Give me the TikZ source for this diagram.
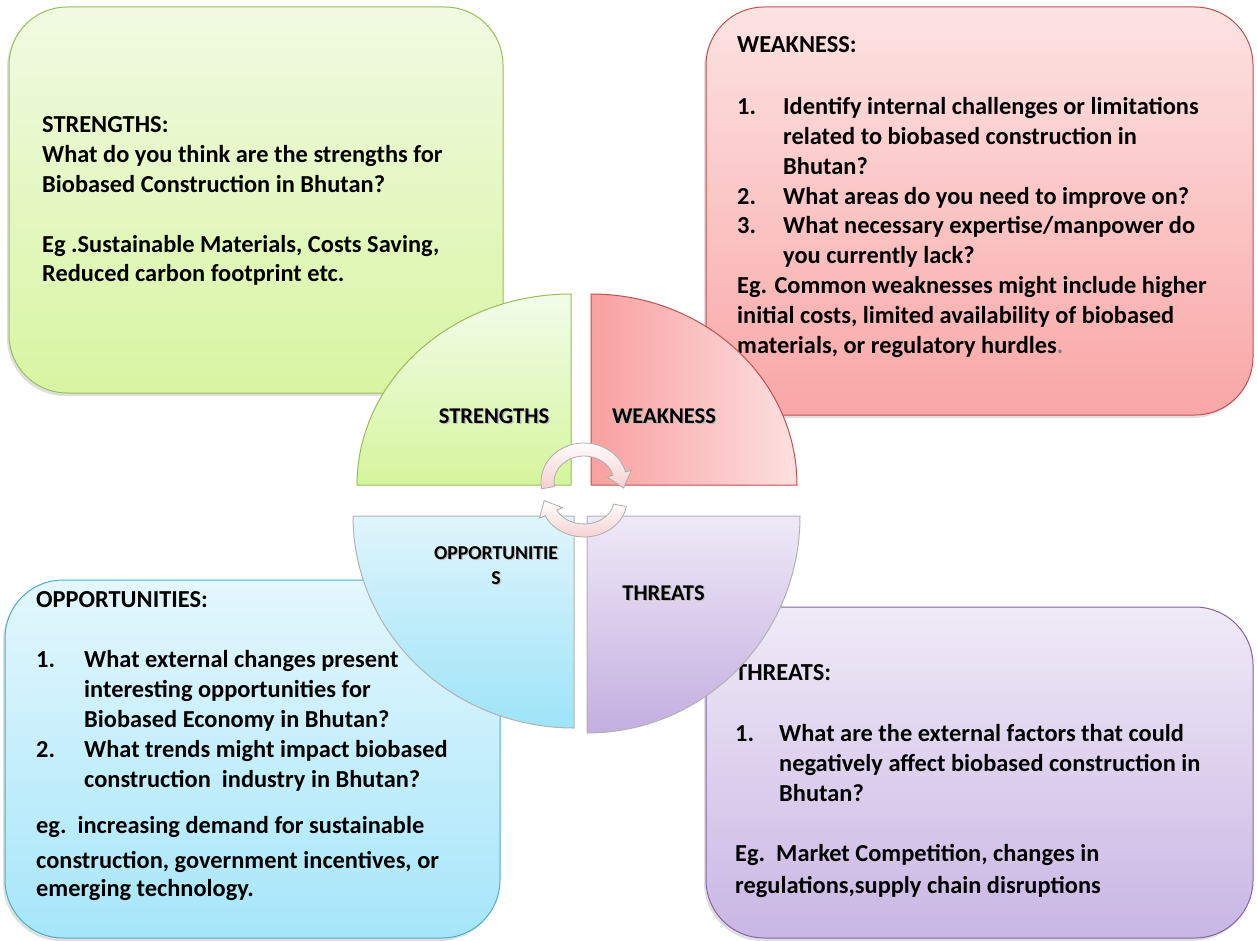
\documentclass[tikz,border=0pt]{standalone}
\usepackage{fontspec}
\setmainfont{Carlito}
\usetikzlibrary{shadows}
\definecolor{gbord}{HTML}{9BBB59}
\definecolor{gtop}{HTML}{F1FAE2}
\definecolor{gbot}{HTML}{D8F5A2}
\definecolor{rbord}{HTML}{C0504D}
\definecolor{rtop}{HTML}{FDE3E3}
\definecolor{rbot}{HTML}{F9A6A6}
\definecolor{bbord}{HTML}{4BACC6}
\definecolor{btop}{HTML}{E4F7FD}
\definecolor{bbot}{HTML}{A6E6FA}
\definecolor{pbord}{HTML}{8064A2}
\definecolor{ptop}{HTML}{F0EAF7}
\definecolor{pbot}{HTML}{C9B6E4}
\definecolor{qgtop}{HTML}{F2FCEA}
\definecolor{qgbot}{HTML}{D5F59C}
\definecolor{qrl}{HTML}{F9A0A0}
\definecolor{qrr}{HTML}{FDE0E0}
\definecolor{qbtop}{HTML}{E0F5FC}
\definecolor{qbbot}{HTML}{9EE4F8}
\definecolor{qptop}{HTML}{EFE9F7}
\definecolor{qpbot}{HTML}{C3AEE0}
\definecolor{arrpink}{HTML}{F5CFCF}
\newcommand{\bx}{\fontsize{24.4}{29.8}\selectfont\bfseries}
\newcommand{\lnum}[2]{\makebox[#1][l]{#2}}
\newcommand{\shtxt}[1]{\rlap{\kern1.2pt\raisebox{-1.2pt}{\textcolor{gray!55}{#1}}}#1}
\begin{document}
\begin{tikzpicture}[x=1pt,y=1pt,
  box/.style={rounded corners=58pt, line width=1pt,
    drop shadow={shadow xshift=-2pt,shadow yshift=-3pt,opacity=0.25}},
  quad/.style={line width=1pt},
  lab/.style={inner sep=0pt, anchor=base, font=\fontsize{22.5}{27}\selectfont\bfseries},
  txt/.style={inner sep=0pt, anchor=base west, align=left},
  arr/.style={draw=gray!65, line width=0.8pt, top color=white, bottom color=arrpink}
]
\useasboundingbox (0,0) rectangle (1257,-941);

% boxes
\path[box, draw=gbord, top color=gtop, bottom color=gbot] (9,-7) rectangle (503,-393);
\path[box, draw=rbord, top color=rtop, bottom color=rbot] (706,-7) rectangle (1253,-415);
\path[box, draw=bbord, top color=btop, bottom color=bbot] (5,-580) rectangle (500,-938);
\path[box, draw=pbord, top color=ptop, bottom color=pbot] (706,-607) rectangle (1253,-938);

% box texts
\node[txt] (stext) at (42,-133) {\bx\begin{tabular}[t]{@{}l@{}}
STRENGTHS:\\
What do you think are the strengths for\\
Biobased Construction in Bhutan?\\[29.8pt]
Eg .Sustainable Materials, Costs Saving,\\
Reduced carbon footprint etc.
\end{tabular}};

\node[txt] (wtext) at (737,-53) {\bx\begin{tabular}[t]{@{}l@{}}
WEAKNESS:\\[32pt]
\lnum{46pt}{1.}Identify internal challenges or limitations\\
\lnum{46pt}{}related to biobased construction in\\
\lnum{46pt}{}Bhutan?\\
\lnum{46pt}{2.}What areas do you need to improve on?\\
\lnum{46pt}{3.}What necessary expertise/manpower do\\
\lnum{46pt}{}you currently lack?\\
Eg. Common weaknesses might include higher\\
initial costs, limited availability of biobased\\
materials, or regulatory hurdles\textcolor{gray}{.}
\end{tabular}};

\node[txt] (otext) at (36,-607) {\bx\begin{tabular}[t]{@{}l@{}}
OPPORTUNITIES:\\[31pt]
\lnum{48pt}{1.}What external changes present\\
\lnum{48pt}{}interesting opportunities for\\
\lnum{48pt}{}Biobased Economy in Bhutan?\\
\lnum{48pt}{2.}What trends might impact biobased\\
\lnum{48pt}{}construction\ \ industry in Bhutan?\\[17pt]
eg.\ \ increasing demand for sustainable\\[5pt]
construction, government incentives, or\\[-2pt]
emerging technology.
\end{tabular}};

\node[txt] (ttext) at (735,-680) {\bx\begin{tabular}[t]{@{}l@{}}
THREATS:\\[32pt]
\lnum{44pt}{1.}What are the external factors that could\\
\lnum{44pt}{}negatively affect biobased construction in\\
\lnum{44pt}{}Bhutan?\\[30pt]
Eg.\ \ Market Competition, changes in\\[2pt]
regulations,supply chain disruptions
\end{tabular}};

% quadrants
\path[quad, draw=gbord, top color=qgtop, bottom color=qgbot]
  (571,-485) -- (357,-485) arc[start angle=180, end angle=90, x radius=214, y radius=191] -- cycle;
\path[quad, draw=rbord, left color=qrl, right color=qrr]
  (591,-485) -- (591,-294) arc[start angle=90, end angle=0, x radius=206, y radius=191] -- cycle;
\path[quad, draw=gray!60, top color=qbtop, bottom color=qbbot]
  (574,-516) -- (353,-516) arc[start angle=180, end angle=270, x radius=221, y radius=212] -- cycle;
\path[quad, draw=gray!60, top color=qptop, bottom color=qpbot]
  (587,-516) -- (800,-516) arc[start angle=0, end angle=-90, x radius=213, y radius=217] -- cycle;

% quadrant labels
\node[lab] (sl) at (494,-423) {\shtxt{STRENGTHS}};
\node[lab] (wl) at (664,-423) {\shtxt{WEAKNESS}};
\node[lab, font=\fontsize{19.7}{24.5}\selectfont\bfseries, align=center] (ol) at (496,-584) {\shtxt{OPPORTUNITIE}\\\shtxt{S}};
\node[lab] (tl) at (663.5,-600) {\shtxt{THREATS}};

% circular arrows
\path[arr] (541.65,-488.77) arc[start angle=190, end angle=15, x radius=43, y radius=39]
  -- (631.3,-470.3) -- (623.5,-488) -- (607.2,-476.9) -- (613,-475.3)
  arc[start angle=15, end angle=190, x radius=30, y radius=26] -- cycle;
\path[arr] (626.35,-506.4) arc[start angle=-10, end angle=-155, x radius=43, y radius=37]
  -- (539.5,-518.1) -- (544.2,-500.6) -- (562.3,-507.6) -- (556.8,-510.1)
  arc[start angle=-155, end angle=-10, x radius=30, y radius=24] -- cycle;
\end{tikzpicture}
\end{document}
